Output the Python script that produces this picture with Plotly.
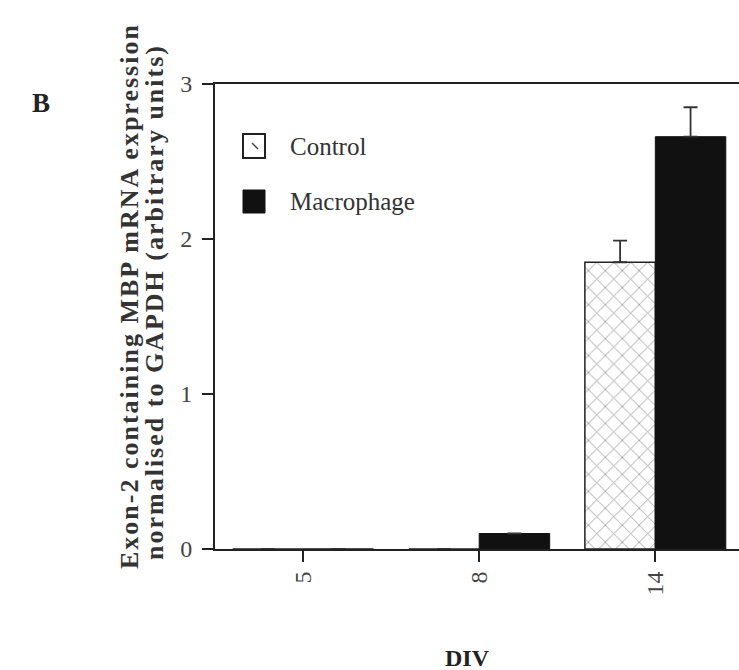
import plotly.graph_objects as go

# Days in vitro and expression values (arbitrary units)
days = ["5", "8", "14"]
control = [0.0, 0.0, 1.85]
control_err = [None, None, 0.14]
macrophage = [0.0, 0.10, 2.66]
macrophage_err = [None, None, 0.19]
y_ticks = [0, 1, 2, 3]

SERIF = "Liberation Serif"

# plot area in pixels (used to place the free-standing text)
W, H = 739, 670
L, R, T, B = 215, 0, 84, 121
PW, PH = W - L - R, H - T - B


def px(x):
    return (x - L) / PW


def py(y):
    return (H - B - y) / PH


fig = go.Figure()

fig.add_trace(go.Bar(
    name="Control", x=days, y=control,
    marker=dict(
        color="white",
        line=dict(color="#222", width=1.5),
        pattern=dict(shape="x", fgcolor="#3a3a3a", bgcolor="white", size=12, solidity=0.14),
    ),
    error_y=dict(type="data", array=control_err, arrayminus=[0, 0, 0], symmetric=False,
                 color="#333", thickness=1.8, width=7),
))
fig.add_trace(go.Bar(
    name="Macrophage", x=days, y=macrophage,
    marker=dict(color="#111", line=dict(color="#111", width=1)),
    error_y=dict(type="data", array=macrophage_err, arrayminus=[0, 0, 0], symmetric=False,
                 color="#333", thickness=1.8, width=7),
))

# hand-drawn legend keys
fig.add_shape(type="rect", xref="paper", yref="paper", x0=px(243), x1=px(265), y0=py(158), y1=py(134),
              fillcolor="white", line=dict(color="#222", width=2))
fig.add_shape(type="line", xref="paper", yref="paper", x0=px(252), x1=px(258), y0=py(143), y1=py(149),
              line=dict(color="#444", width=1.5))
fig.add_shape(type="rect", xref="paper", yref="paper", x0=px(243), x1=px(265), y0=py(213), y1=py(190),
              fillcolor="#111", line=dict(color="#111", width=1))

SPACED = '<span style="letter-spacing:2px"><b>{}</b></span>'

annotations = [
    dict(text="Control", x=px(288), y=py(146), xanchor="left", yanchor="middle",
         font=dict(family=SERIF, size=25, color="#333")),
    dict(text="Macrophage", x=px(288), y=py(201), xanchor="left", yanchor="middle",
         font=dict(family=SERIF, size=25, color="#333")),
    dict(text=SPACED.format("Exon-2 containing MBP mRNA expression"),
         x=px(129), y=py(296), xanchor="center", yanchor="middle", textangle=-90,
         font=dict(family=SERIF, size=26, color="#333")),
    dict(text=SPACED.format("normalised to GAPDH (arbitrary units)"),
         x=px(154), y=py(302), xanchor="center", yanchor="middle", textangle=-90,
         font=dict(family=SERIF, size=26, color="#333")),
    dict(text="<b>B</b>", x=px(41), y=py(103), xanchor="center", yanchor="middle",
         font=dict(family=SERIF, size=27, color="#222")),
    dict(text="<b>DIV</b>", x=px(467), y=py(673), xanchor="center", yanchor="bottom",
         font=dict(family=SERIF, size=24, color="#222")),
]
for a in annotations:
    a.update(xref="paper", yref="paper", showarrow=False)

fig.update_layout(
    width=W, height=H,
    margin=dict(l=L, r=R, t=T, b=B),
    paper_bgcolor="white", plot_bgcolor="white",
    barmode="group", bargap=0.2, bargroupgap=0,
    showlegend=False,
    annotations=annotations,
    font=dict(family=SERIF, color="#333"),
)
fig.update_xaxes(
    type="category", range=[-0.5, 2.475],
    showline=True, linecolor="#222", linewidth=2, mirror=True,
    ticks="outside", ticklen=11, tickwidth=1.5, tickcolor="#222",
    tickangle=-90, ticklabelstandoff=0,
    tickfont=dict(family=SERIF, size=24, color="#444"),
    showgrid=False, zeroline=False,
)
fig.update_yaxes(
    range=[0, 3], tickvals=y_ticks,
    showline=True, linecolor="#222", linewidth=2,
    ticks="outside", ticklen=11, tickwidth=1.5, tickcolor="#222",
    ticklabelstandoff=5,
    tickfont=dict(family=SERIF, size=24, color="#444"),
    showgrid=False, zeroline=False,
)

fig.write_html("out.html")
